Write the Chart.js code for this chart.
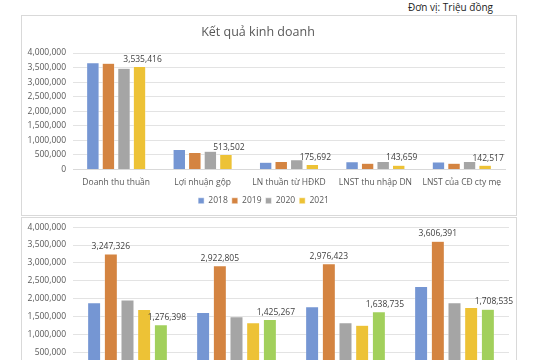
<!DOCTYPE html>
<html>
<head>
<meta charset="utf-8">
<script src="https://cdn.jsdelivr.net/npm/chart.js@4/dist/chart.umd.min.js"></script>
<style>
  html, body { margin: 0; padding: 0; background: #fff; }
  body { width: 540px; height: 360px; overflow: hidden; position: relative; font-family: 'Open Sans', sans-serif; }
  .unit { position: absolute; right: 47px; top: 0px; font-size: 10px; line-height: 14px; color: #222; }
  .box { position: absolute; left: 21px; width: 494px; border: 1px solid #d9d9d9; background: #fff; }
  #box1 { top: 15px; height: 199px; }
  #box2 { top: 217px; height: 200px; }
  #chart2 { position: relative; top: -3px; }
</style>
</head>
<body>
<div class="unit">Đơn vị: Triệu đồng</div>
<div class="box" id="box1"><canvas id="chart1" width="494" height="199"></canvas></div>
<div class="box" id="box2"><canvas id="chart2" width="494" height="200"></canvas></div>
<script>
// top chart data
const categories = ['Doanh thu thuần', 'Lợi nhuận gộp', 'LN thuần từ HĐKD', 'LNST thu nhập DN', 'LNST của CĐ cty mẹ'];
const years = ['2018', '2019', '2020', '2021'];
const v2018 = [3666000, 684000, 252000, 262000, 258000];
const v2019 = [3650000, 581000, 276000, 217000, 214000];
const v2020 = [3480000, 626000, 331000, 276000, 272000];
const v2021 = [3535416, 513502, 175692, 143659, 142517];

// bottom chart data (x labels fall below the visible area)
const groups2 = ['Nhóm 1', 'Nhóm 2', 'Nhóm 3', 'Nhóm 4'];
const series2 = ['S1', 'S2', 'S3', 'S4', 'S5'];
const b1 = [1890000, 1620000, 1780000, 2340000];
const b2 = [3247326, 2922805, 2976423, 3606391];
const b3 = [1970000, 1500000, 1330000, 1890000];
const b4 = [1700000, 1330000, 1260000, 1760000];
const b5 = [1276398, 1425267, 1638735, 1708535];

const yTicks = [0, 500000, 1000000, 1500000, 2000000, 2500000, 3000000, 3500000, 4000000];

const colors = ['#7596D3', '#D48441', '#A5A5A5', '#EDC236', '#A2D05C'];
const fontName = "'Open Sans', sans-serif";
const fmt = v => v.toLocaleString('en-US');

// draws value labels for datasets flagged with showLabels
const valueLabels = {
  id: 'valueLabels',
  afterDatasetsDraw(chart) {
    const ctx = chart.ctx;
    ctx.save();
    ctx.font = '8.5px ' + fontName;
    ctx.fillStyle = '#404040';
    ctx.textAlign = 'center';
    ctx.textBaseline = 'bottom';
    chart.data.datasets.forEach((ds, i) => {
      if (!ds.showLabels) return;
      chart.getDatasetMeta(i).data.forEach((bar, j) => {
        ctx.fillText(fmt(ds.data[j]), bar.x + (ds.labelDx || 0), bar.y - 3);
      });
    });
    ctx.restore();
  }
};

// title drawn slightly left of centre like the original
const chartTitle = {
  id: 'chartTitle',
  afterDraw(chart, args, opts) {
    if (!opts.text) return;
    const ctx = chart.ctx;
    ctx.save();
    ctx.font = '12.5px ' + fontName;
    ctx.fillStyle = '#595959';
    ctx.textAlign = 'center';
    ctx.textBaseline = 'middle';
    ctx.fillText(opts.text, opts.x, opts.y);
    ctx.restore();
  }
};

function yAxis() {
  return {
    min: 0,
    max: 4000000,
    afterBuildTicks: s => { s.ticks = yTicks.map(v => ({ value: v })); },
    afterFit: s => { s.width = 51; },
    border: { display: false },
    grid: { color: '#e3e3e3', drawTicks: false },
    ticks: { color: '#595959', padding: 7, font: { family: fontName, size: 8.5 }, callback: v => fmt(v) }
  };
}

new Chart(document.getElementById('chart1'), {
  type: 'bar',
  data: {
    labels: categories,
    datasets: [v2018, v2019, v2020, v2021].map((d, i) => ({
      label: years[i],
      data: d,
      backgroundColor: colors[i],
      borderColor: '#ffffff',
      borderWidth: 0.5,
      categoryPercentage: 0.72,
      barPercentage: 0.8,
      showLabels: i === 3,
      labelDx: 3
    }))
  },
  options: {
    responsive: false,
    animation: false,
    layout: { padding: { top: 37, right: 11, left: 0, bottom: 0 } },
    scales: {
      x: {
        grid: { display: false, drawTicks: false },
        border: { color: '#d9d9d9' },
        afterFit: s => { s.height = 23; },
        ticks: { color: '#595959', padding: 8, font: { family: fontName, size: 8.5 } }
      },
      y: yAxis()
    },
    plugins: {
      legend: {
        position: 'bottom',
        labels: { boxWidth: 6, boxHeight: 6, padding: 4, color: '#595959', font: { family: fontName, size: 8.5 } }
      },
      tooltip: { enabled: false },
      chartTitle: { text: 'Kết quả kinh doanh', x: 236, y: 16 }
    }
  },
  plugins: [valueLabels, chartTitle]
});

new Chart(document.getElementById('chart2'), {
  type: 'bar',
  data: {
    labels: groups2,
    datasets: [b1, b2, b3, b4, b5].map((d, i) => ({
      label: series2[i],
      data: d,
      backgroundColor: colors[i],
      borderColor: '#ffffff',
      borderWidth: 0.5,
      categoryPercentage: 0.765,
      barPercentage: 0.78,
      showLabels: i === 1 || i === 4,
      labelDx: i === 4 ? 6 : 0
    }))
  },
  options: {
    responsive: false,
    animation: false,
    layout: { padding: { top: 7, right: 7, left: 0, bottom: 0 } },
    scales: {
      x: {
        grid: { display: false, drawTicks: false },
        border: { color: '#d9d9d9' },
        afterFit: s => { s.height = 22; },
        ticks: { color: '#595959', padding: 8, font: { family: fontName, size: 8.5 } }
      },
      y: yAxis()
    },
    plugins: {
      legend: {
        position: 'bottom',
        labels: { boxWidth: 6, boxHeight: 6, padding: 4, color: '#595959', font: { family: fontName, size: 8.5 } }
      },
      tooltip: { enabled: false }
    }
  },
  plugins: [valueLabels]
});
</script>
</body>
</html>
